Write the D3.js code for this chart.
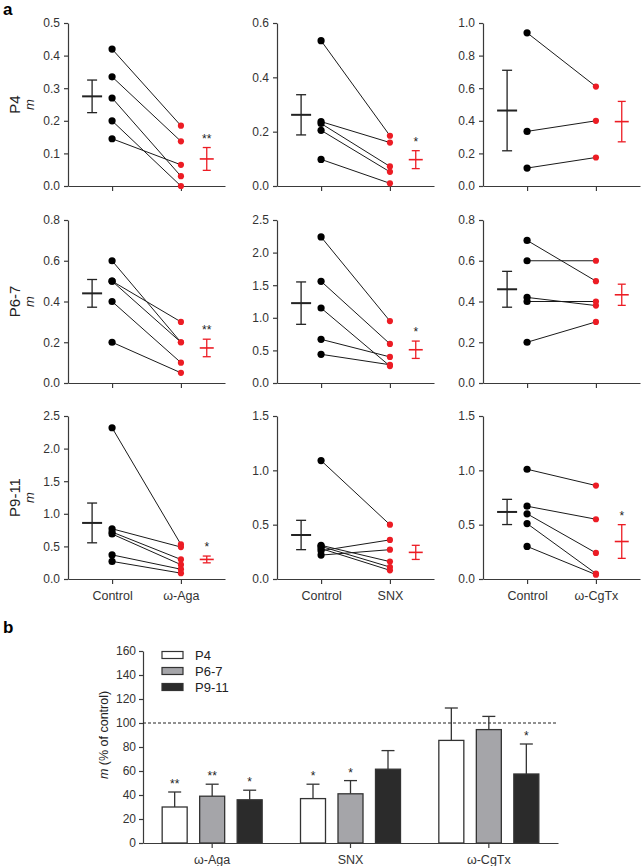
<!DOCTYPE html>
<html><head><meta charset="utf-8">
<script src="https://cdn.jsdelivr.net/npm/d3@7"></script>
<style>
body{margin:0;background:#fff;}
svg{display:block;font-family:"Liberation Sans",Arial,sans-serif;}
</style></head>
<body><svg id="c" width="642" height="866"></svg>
<script>
// ---------- DATA (panel a) ----------
const rowLabels = ["P4", "P6-7", "P9-11"];
const drugs = ["ω-Aga", "SNX", "ω-CgTx"];
const yMax = [[0.5, 0.6, 1.0], [0.8, 2.5, 0.8], [2.5, 1.5, 1.5]];
const yStep = [[0.1, 0.2, 0.2], [0.2, 0.5, 0.2], [0.5, 0.5, 0.5]];

const p4AgaCtrl = [0.42, 0.335, 0.27, 0.2, 0.145];
const p4AgaDrug = [0.185, 0.137, 0.03, 0.0, 0.065];
const p4SnxCtrl = [0.535, 0.237, 0.23, 0.205, 0.098];
const p4SnxDrug = [0.185, 0.16, 0.072, 0.052, 0.01];
const p4CgCtrl = [0.94, 0.335, 0.11];
const p4CgDrug = [0.61, 0.40, 0.175];

const p67AgaCtrl = [0.6, 0.5, 0.5, 0.4, 0.2];
const p67AgaDrug = [0.2, 0.3, 0.2, 0.1, 0.05];
const p67SnxCtrl = [2.24, 1.56, 1.15, 0.67, 0.44];
const p67SnxDrug = [0.95, 0.6, 0.26, 0.4, 0.28];
const p67CgCtrl = [0.7, 0.6, 0.42, 0.4, 0.2];
const p67CgDrug = [0.5, 0.6, 0.38, 0.4, 0.3];

const p911AgaCtrl = [2.32, 0.77, 0.72, 0.69, 0.37, 0.27];
const p911AgaDrug = [0.53, 0.49, 0.3, 0.22, 0.15, 0.09];
const p911SnxCtrl = [1.09, 0.31, 0.3, 0.28, 0.26, 0.22];
const p911SnxDrug = [0.5, 0.16, 0.11, 0.08, 0.36, 0.27];
const p911CgCtrl = [1.01, 0.67, 0.6, 0.51, 0.3];
const p911CgDrug = [0.86, 0.55, 0.24, 0.05, 0.04];

const ctrlMean = [[0.275, 0.262, 0.463], [0.44, 1.225, 0.46], [0.86, 0.405, 0.617]];
const ctrlSEM = [[0.05, 0.074, 0.247], [0.068, 0.325, 0.088], [0.305, 0.135, 0.116]];
const drugMean = [[0.083, 0.097, 0.395], [0.172, 0.51, 0.433], [0.3, 0.245, 0.345]];
const drugSEM = [[0.035, 0.033, 0.124], [0.043, 0.133, 0.052], [0.052, 0.065, 0.155]];
const panelStars = [["**", "*", ""], ["**", "*", ""], ["*", "", "*"]];

// ---------- DATA (panel b) ----------
const groups = ["ω-Aga", "SNX", "ω-CgTx"];
const seriesNames = ["P4", "P6-7", "P9-11"];
const pctP4 = [30, 37, 85.5];
const errP4 = [12.5, 12, 27];
const pctP67 = [39, 41, 94.5];
const errP67 = [10, 11, 11];
const pctP911 = [36, 61.5, 57.5];
const errP911 = [8, 15.5, 25];
const starsP4 = ["**", "*", ""];
const starsP67 = ["**", "*", ""];
const starsP911 = ["*", "", "*"];
const pctTicks = [0, 20, 40, 60, 80, 100, 120, 140, 160];

// ---------- STYLE ----------
const RED = "#ec1c24";
const AX = "#3a3a3a";
const svg = d3.select("#c");

const pairs = [
  [[p4AgaCtrl, p4AgaDrug], [p4SnxCtrl, p4SnxDrug], [p4CgCtrl, p4CgDrug]],
  [[p67AgaCtrl, p67AgaDrug], [p67SnxCtrl, p67SnxDrug], [p67CgCtrl, p67CgDrug]],
  [[p911AgaCtrl, p911AgaDrug], [p911SnxCtrl, p911SnxDrug], [p911CgCtrl, p911CgDrug]]
];

const colX = [68, 277, 483];
const rowTop = [23, 220, 416];
const PW = 157, PH = 163;

svg.append("text").attr("x", 3).attr("y", 15).attr("font-size", 17).attr("font-weight", "bold").text("a");
svg.append("text").attr("x", 3).attr("y", 633).attr("font-size", 17).attr("font-weight", "bold").text("b");

function styleAxis(g) {
  g.selectAll("path").attr("stroke", AX).attr("stroke-width", 1.2);
  g.selectAll("line").attr("stroke", AX).attr("stroke-width", 1.2);
  g.selectAll("text").attr("fill", "#333").attr("font-family", "Liberation Sans, Arial, sans-serif");
}

for (let r = 0; r < 3; r++) {
  const cy = rowTop[r] + PH / 2;
  svg.append("text").attr("transform", `translate(20,${cy}) rotate(-90)`)
    .attr("text-anchor", "middle").attr("font-size", 15).attr("fill", "#222").text(rowLabels[r]);
  svg.append("text").attr("transform", `translate(34,${cy}) rotate(-90)`)
    .attr("text-anchor", "middle").attr("font-size", 13).attr("font-style", "italic").attr("fill", "#222").text("m");

  for (let c = 0; c < 3; c++) {
    const g = svg.append("g").attr("transform", `translate(${colX[c]},${rowTop[r]})`);
    const x = d3.scaleLinear().domain([0.36, 2.64]).range([0, PW]);
    const y = d3.scaleLinear().domain([0, yMax[r][c]]).range([PH, 0]);
    const nT = Math.round(yMax[r][c] / yStep[r][c]);
    const ticks = d3.range(nT + 1).map(i => +(i * yStep[r][c]).toFixed(3));

    const ya = g.append("g").call(d3.axisLeft(y).tickValues(ticks).tickFormat(d3.format(".1f")).tickSize(4).tickSizeOuter(0));
    ya.selectAll("text").attr("font-size", 12).attr("dx", "-1");
    styleAxis(ya);

    const xa = g.append("g").attr("transform", `translate(0,${PH})`)
      .call(d3.axisBottom(x).tickValues([1, 2]).tickFormat((d, i) => r === 2 ? ["Control", drugs[c]][i] : "").tickSize(5).tickSizeOuter(0));
    xa.selectAll("text").attr("font-size", 12.5).attr("dy", "1.05em");
    styleAxis(xa);

    const [cv, dv] = pairs[r][c];
    const pd = cv.map((v, i) => ({ c: v, d: dv[i] }));
    g.selectAll("line.pair").data(pd).enter().append("line")
      .attr("x1", x(1)).attr("x2", x(2))
      .attr("y1", d => y(d.c)).attr("y2", d => y(d.d))
      .attr("stroke", "#1a1a1a").attr("stroke-width", 1);
    g.selectAll("circle.c").data(cv).enter().append("circle")
      .attr("cx", x(1)).attr("cy", d => y(d)).attr("r", 3.6).attr("fill", "#000");
    g.selectAll("circle.d").data(dv).enter().append("circle")
      .attr("cx", x(2)).attr("cy", d => y(d)).attr("r", 3.1).attr("fill", RED);

    function meanBar(xp, m, s, col, halfW, capHalf, sw) {
      const xc = x(xp);
      g.append("line").attr("x1", xc).attr("x2", xc).attr("y1", y(m - s)).attr("y2", y(m + s)).attr("stroke", col).attr("stroke-width", 1.3);
      [m - s, m + s].forEach(v => g.append("line").attr("x1", xc - capHalf).attr("x2", xc + capHalf).attr("y1", y(v)).attr("y2", y(v)).attr("stroke", col).attr("stroke-width", 1.3));
      g.append("line").attr("x1", xc - halfW).attr("x2", xc + halfW).attr("y1", y(m)).attr("y2", y(m)).attr("stroke", col).attr("stroke-width", sw);
    }
    meanBar(0.71, ctrlMean[r][c], ctrlSEM[r][c], "#222", 10, 5, 2);
    meanBar(2.375, drugMean[r][c], drugSEM[r][c], RED, 7, 4, 1.6);
    if (panelStars[r][c]) {
      g.append("text").attr("x", x(2.375)).attr("y", y(drugMean[r][c] + drugSEM[r][c]) - 5)
        .attr("text-anchor", "middle").attr("font-size", 12).attr("fill", "#222").text(panelStars[r][c]);
    }
  }
}

// ---------- PANEL b ----------
const bL = 143, bR = 558, bTop = 651, bBot = 843;
const yb = d3.scaleLinear().domain([0, 160]).range([bBot, bTop]);
const xb = d3.scaleBand().domain(groups).range([bL, bR]);
const xs = d3.scaleBand().domain(seriesNames).range([xb.bandwidth() / 2 - 56.25, xb.bandwidth() / 2 + 56.25]).paddingInner(1 / 3).paddingOuter(1 / 6);
const fills = { "P4": "#ffffff", "P6-7": "#a5a5a9", "P9-11": "#2b2b2b" };
const vals = { "P4": pctP4, "P6-7": pctP67, "P9-11": pctP911 };
const errs = { "P4": errP4, "P6-7": errP67, "P9-11": errP911 };
const sts = { "P4": starsP4, "P6-7": starsP67, "P9-11": starsP911 };

const yba = svg.append("g").attr("transform", `translate(${bL},0)`).call(d3.axisLeft(yb).tickValues(pctTicks).tickSize(4).tickSizeOuter(0));
yba.selectAll("text").attr("font-size", 12);
styleAxis(yba);

svg.append("line").attr("x1", bL).attr("x2", bR).attr("y1", yb(100)).attr("y2", yb(100))
  .attr("stroke", "#222").attr("stroke-width", 1).attr("stroke-dasharray", "3,2");

const bd = [];
groups.forEach((gname, gi) => seriesNames.forEach(s => bd.push({ g: gname, s, v: vals[s][gi], e: errs[s][gi], st: sts[s][gi] })));
const bx = d => xb(d.g) + xs(d.s);
const bw = xs.bandwidth();
svg.selectAll("line.eb").data(bd).enter().append("line")
  .attr("x1", d => bx(d) + bw / 2).attr("x2", d => bx(d) + bw / 2)
  .attr("y1", d => yb(d.v)).attr("y2", d => yb(d.v + d.e)).attr("stroke", "#333").attr("stroke-width", 1.3);
svg.selectAll("line.ec").data(bd).enter().append("line")
  .attr("x1", d => bx(d) + bw / 2 - 6.5).attr("x2", d => bx(d) + bw / 2 + 6.5)
  .attr("y1", d => yb(d.v + d.e)).attr("y2", d => yb(d.v + d.e)).attr("stroke", "#333").attr("stroke-width", 1.3);
svg.selectAll("rect.bar").data(bd).enter().append("rect")
  .attr("x", bx).attr("width", bw)
  .attr("y", d => yb(d.v)).attr("height", d => yb(0) - yb(d.v))
  .attr("fill", d => fills[d.s]).attr("stroke", "#333").attr("stroke-width", 1.3);
svg.selectAll("text.st").data(bd.filter(d => d.st)).enter().append("text")
  .attr("x", d => bx(d) + bw / 2).attr("y", d => yb(d.v + d.e) - 4)
  .attr("text-anchor", "middle").attr("font-size", 12).attr("fill", "#222").text(d => d.st);

const xba = svg.append("g").attr("transform", `translate(0,${bBot})`).call(d3.axisBottom(xb).tickSize(5).tickSizeOuter(0));
xba.selectAll("text").attr("font-size", 12.5).attr("dy", "1.0em");
styleAxis(xba);

svg.append("text").attr("transform", `translate(108,735) rotate(-90)`).attr("text-anchor", "middle")
  .attr("font-size", 12.5).attr("fill", "#222")
  .html('<tspan font-style="italic">m</tspan> (% of control)');

seriesNames.forEach((s, i) => {
  const ly = 655 + i * 16;
  svg.append("rect").attr("x", 162).attr("y", ly - 3.5).attr("width", 21).attr("height", 7)
    .attr("fill", fills[s]).attr("stroke", "#333").attr("stroke-width", 1.2);
  svg.append("text").attr("x", 195).attr("y", ly + 4.5).attr("font-size", 13).attr("fill", "#222").text(s);
});
</script>
</body></html>
